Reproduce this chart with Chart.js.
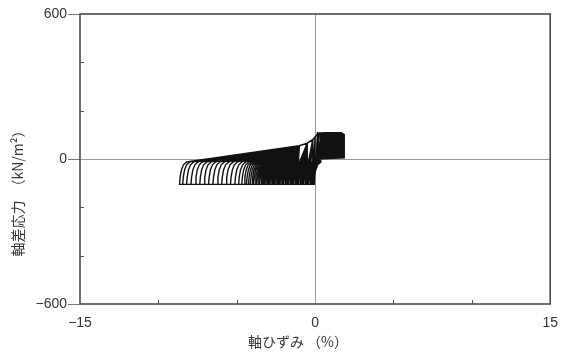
<!DOCTYPE html>
<html>
<head>
<meta charset="utf-8">
<script src="https://cdn.jsdelivr.net/npm/chart.js@4"></script>
<style>
  html, body { margin: 0; padding: 0; background: #fff; }
  #wrap { width: 563px; height: 353px; }
</style>
</head>
<body>
<div id="wrap"><canvas id="myChart" width="563" height="353"></canvas></div>
<script>
// axis ranges and labels
const xTickLabels = [-15, 0, 15];
const yTickLabels = [-600, 0, 600];
const xMinorTicks = [-10, -5, 5, 10];
const yMinorTicks = [-400, -200, 200, 400];

// most negative strain (%) reached in each cycle, in order
const cycleMin = [-0.08, -0.16, -0.24, -0.32, -0.4, -0.48, -0.56, -0.64, -0.72, -0.8,
  -0.88, -0.96, -1.04, -1.12, -1.2, -1.28, -1.36, -1.44, -1.52, -1.6,
  -1.68, -1.76, -1.84, -1.92, -2.0, -2.08, -2.16, -2.24, -2.32, -2.4,
  -2.48, -2.56, -2.64, -2.72, -2.8, -2.88, -2.96, -3.04, -3.12, -3.2,
  -3.28, -3.36, -3.45, -3.54, -3.63, -3.72, -3.82, -3.92, -4.02, -4.13,
  -4.25, -4.38, -4.52, -4.68, -4.88, -5.12, -5.4, -5.68, -5.96, -6.24,
  -6.52, -6.8, -7.08, -7.36, -7.64, -7.92, -8.2, -8.45, -8.65];
// largest positive strain (%) reached in each cycle
const cycleMax = [0.3, 0.33, 0.36, 0.39, 0.42, 0.45, 0.48, 0.51, 0.54, 0.57,
  0.6, 0.63, 0.66, 0.69, 0.72, 0.75, 0.78, 0.81, 0.84, 0.87,
  0.9, 0.93, 0.96, 0.99, 1.02, 1.05, 1.08, 1.1, 1.12, 1.14,
  1.16, 1.18, 1.2, 1.22, 1.24, 1.26, 1.28, 1.3, 1.32, 1.34,
  1.36, 1.38, 1.4, 1.42, 1.44, 1.46, 1.48, 1.5, 1.52, 1.54,
  1.56, 1.58, 1.6, 1.62, 1.64, 1.66, 1.68, 1.7, 1.72, 1.74,
  1.76, 1.78, 1.8, 1.82, 1.83, 1.84, 1.85, 1.85, 1.85];

// reloading corner, read from the left ends of the loops (strain past the cycle minimum)
const cornerOffset = [0, 0.04, 0.12, 0.25, 0.45];
const cornerStress = [-105, -75, -45, -24, -12];
// upper path of the loops near zero strain
const backStrain = [-1.0, -0.5, -0.15, 0.0, 0.15];
const backStress = [55, 66, 80, 92, 103];
// compression peak and unloading (strain relative to the cycle maximum)
const capOffset = [-0.15, 0, 0.02, 0];
const capStress = [107, 102, 80, 5];
// return to zero strain and extension
const unloadStrain = [0.1, 0.0, -0.05];
const unloadStress = [0, -30, -105];

// build the path
const points = [{ x: 0, y: 0 }, { x: 0, y: -30 }, { x: -0.05, y: -105 }];
cycleMin.forEach((e0, i) => {
  cornerOffset.forEach((d, k) => points.push({ x: e0 + d, y: cornerStress[k] }));
  const last = e0 + cornerOffset[cornerOffset.length - 1];
  const e1 = cycleMax[i] ?? cycleMax[cycleMax.length - 1];
  backStrain.forEach((s, k) => {
    if (s > last && s < e1 - 0.15) points.push({ x: s, y: backStress[k] });
  });
  capOffset.forEach((d, k) => points.push({ x: e1 + d, y: capStress[k] }));
  unloadStrain.forEach((s, k) => points.push({ x: s, y: unloadStress[k] }));
});

// frame, inside ticks and axis titles
const framePlugin = {
  id: "frame",
  afterDraw(chart) {
    const { ctx, chartArea: a, scales } = chart;
    ctx.save();
    ctx.strokeStyle = "#555";
    ctx.lineWidth = 1;
    xMinorTicks.forEach(v => {
      const px = Math.round(scales.x.getPixelForValue(v)) + 0.5;
      ctx.beginPath(); ctx.moveTo(px, a.bottom); ctx.lineTo(px, a.bottom - 4); ctx.stroke();
    });
    yMinorTicks.forEach(v => {
      const py = Math.round(scales.y.getPixelForValue(v)) + 0.5;
      ctx.beginPath(); ctx.moveTo(a.left, py); ctx.lineTo(a.left + 4, py); ctx.stroke();
    });
    ctx.lineWidth = 1.6;
    ctx.strokeStyle = "#4a4a4a";
    ctx.strokeRect(a.left, a.top, a.right - a.left, a.bottom - a.top);

    ctx.fillStyle = "#333";
    ctx.font = "14px 'Noto Sans CJK JP'";
    ctx.textAlign = "center";
    ctx.textBaseline = "middle";
    ctx.fillText("軸ひずみ （%）", 298, 342);
    ctx.translate(18, 190);
    ctx.rotate(-Math.PI / 2);
    ctx.fillText("軸差応力　（kN/m²）", 0, 0);
    ctx.restore();
  }
};

const fmt = v => (v < 0 ? "\u2212" + Math.abs(v) : String(v));

new Chart(document.getElementById("myChart").getContext("2d"), {
  type: "scatter",
  data: {
    datasets: [{
      data: points,
      showLine: true,
      borderColor: "#111",
      borderWidth: 1.4,
      pointRadius: 0,
      tension: 0
    }]
  },
  options: {
    responsive: false,
    animation: false,
    layout: { padding: { top: 14, right: 11, left: 0, bottom: 0 } },
    plugins: { legend: { display: false }, tooltip: { enabled: false } },
    scales: {
      x: {
        min: -15, max: 15,
        border: { display: false },
        afterFit: s => { s.height = 49; },
        ticks: {
          stepSize: 5,
          padding: 5,
          color: "#333",
          font: { family: "'Liberation Sans'", size: 14 },
          callback: v => (xTickLabels.includes(v) ? fmt(v) : "")
        },
        grid: {
          tickLength: 6,
          tickColor: "transparent",
          color: c => (c.tick && c.tick.value === 0 ? "#9a9a9a" : "transparent")
        }
      },
      y: {
        min: -600, max: 600,
        border: { display: false },
        afterFit: s => { s.width = 80; },
        ticks: {
          stepSize: 200,
          padding: 1,
          color: "#333",
          font: { family: "'Liberation Sans'", size: 14 },
          callback: v => (yTickLabels.includes(v) ? fmt(v) : "")
        },
        grid: {
          tickLength: 12,
          tickColor: c => (c.tick && yTickLabels.includes(c.tick.value) ? "#777" : "transparent"),
          color: c => (c.tick && c.tick.value === 0 ? "#9a9a9a" : "transparent")
        }
      }
    }
  },
  plugins: [framePlugin]
});
</script>
</body>
</html>
